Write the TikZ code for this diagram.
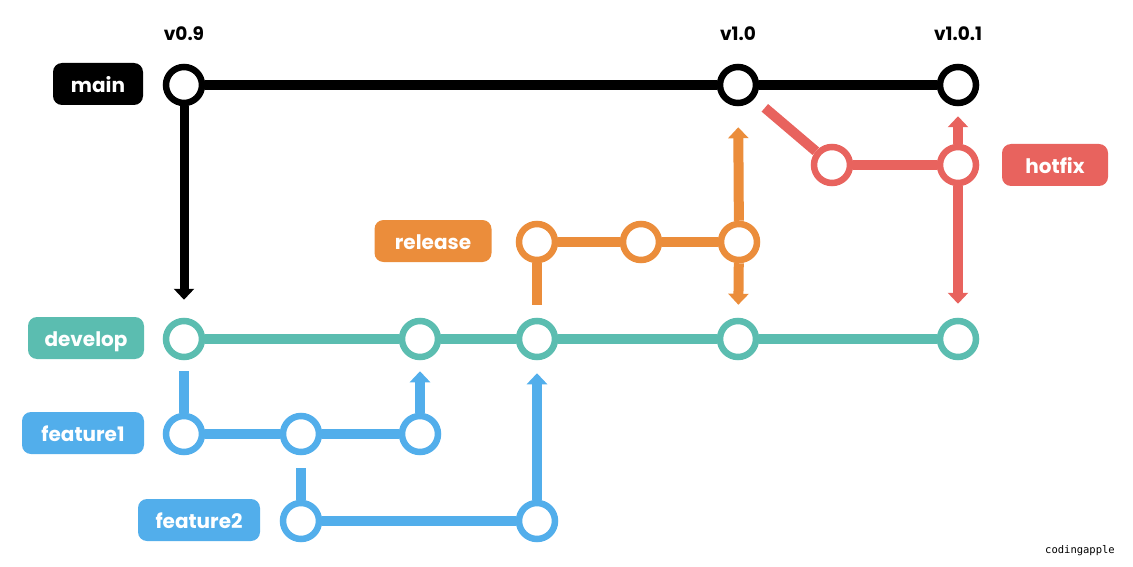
\documentclass[tikz,border=0pt]{standalone}
\usepackage{fontspec}
\setmainfont{Poppins}
\newfontfamily\wmfont{DejaVu Sans Mono}
\usetikzlibrary{arrows.meta,backgrounds}
\definecolor{cmain}{RGB}{0,0,0}
\definecolor{cdev}{RGB}{91,189,176}
\definecolor{cfeat}{RGB}{82,174,235}
\definecolor{crel}{RGB}{235,141,59}
\definecolor{chot}{RGB}{232,99,94}
\tikzset{
  commit/.style={circle,draw=#1,line width=6.5pt,fill=white,minimum size=36pt,inner sep=0pt},
  branchlbl/.style={rounded corners=9pt,fill=#1,text=white,font=\bfseries\fontsize{20}{20}\selectfont,minimum height=42pt,inner sep=0pt,text height=17pt,text depth=0pt},
  ver/.style={font=\bfseries\fontsize{18.5}{18.5}\selectfont,text=black},
  link/.style={draw=#1,line width=10pt},
  tip/.style={-{Triangle[width=20pt,length=11pt]}},
}
\begin{document}
\begin{tikzpicture}[x=1pt,y=-1pt]
\useasboundingbox (0,0) rectangle (1133,567);
% commits
\node[commit=cmain] (m1) at (184,85) {};
\node[commit=cmain] (m2) at (738,85) {};
\node[commit=cmain] (m3) at (958,85) {};
\node[commit=chot] (h1) at (832,165) {};
\node[commit=chot] (h2) at (958,165) {};
\node[commit=crel] (r1) at (537,242) {};
\node[commit=crel] (r2) at (641,242) {};
\node[commit=crel] (r3) at (739,242) {};
\node[commit=cdev] (d1) at (184,339) {};
\node[commit=cdev] (d2) at (420,339) {};
\node[commit=cdev] (d3) at (537,339) {};
\node[commit=cdev] (d4) at (738,339) {};
\node[commit=cdev] (d5) at (958,339) {};
\node[commit=cfeat] (f1) at (184,434) {};
\node[commit=cfeat] (f2) at (301,434) {};
\node[commit=cfeat] (f3) at (420,434) {};
\node[commit=cfeat] (g1) at (301,521) {};
\node[commit=cfeat] (g2) at (537,521) {};
% labels
\node[branchlbl=cmain,minimum width=90pt] (lmain) at (98,84) {main};
\node[branchlbl=chot,minimum width=106pt] (lhot) at (1055,165) {hotfix};
\node[branchlbl=crel,minimum width=117pt] (lrel) at (433,241) {release};
\node[branchlbl=cdev,minimum width=116pt] (ldev) at (86,338) {develop};
\node[branchlbl=cfeat,minimum width=122pt] (lf1) at (83,433) {feature1};
\node[branchlbl=cfeat,minimum width=122pt] (lf2) at (199,520) {feature2};
\node[ver] (v1) at (184,34) {v0.9};
\node[ver] (v2) at (738,34) {v1.0};
\node[ver] (v3) at (958,34) {v1.0.1};
\node[font=\wmfont\fontsize{10.5}{10.5}\selectfont] (wm) at (1080,551) {codingapple};
% connectors
\begin{scope}[on background layer]
\draw[link=cmain] (m1) -- (m2);
\draw[link=cmain] (m2) -- (m3);
\draw[link=cmain,line width=9pt,tip,shorten >=18pt] (m1) -- (d1);
\draw[link=chot,shorten <=14pt] (m2) -- (h1);
\draw[link=chot] (h1) -- (h2);
\draw[link=chot,tip,shorten >=10pt] (h2) -- (m3);
\draw[link=chot,tip,shorten >=14pt] (h2) -- (d5);
\draw[link=crel] (r1) -- (r2);
\draw[link=crel] (r2) -- (r3);
\draw[link=crel,shorten <=13pt] (d3) -- (r1);
\draw[link=crel,tip,shorten >=21pt] (r3) -- (m2);
\draw[link=crel,tip,shorten >=13pt] (r3) -- (d4);
\draw[link=cdev] (d1) -- (d2);
\draw[link=cdev] (d2) -- (d3);
\draw[link=cdev] (d3) -- (d4);
\draw[link=cdev] (d4) -- (d5);
\draw[link=cfeat,shorten <=11pt] (d1) -- (f1);
\draw[link=cfeat] (f1) -- (f2);
\draw[link=cfeat] (f2) -- (f3);
\draw[link=cfeat,tip,shorten >=11pt] (f3) -- (d2);
\draw[link=cfeat,shorten <=13pt] (f2) -- (g1);
\draw[link=cfeat] (g1) -- (g2);
\draw[link=cfeat,tip,shorten >=13pt] (g2) -- (d3);
\end{scope}
\end{tikzpicture}
\end{document}
